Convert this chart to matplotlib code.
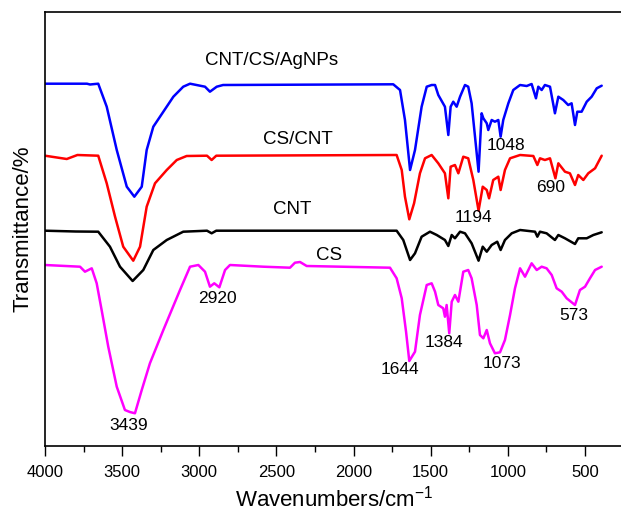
import matplotlib
matplotlib.use('Agg')
import matplotlib.pyplot as plt
from matplotlib.ticker import MultipleLocator

plt.rcParams['font.family'] = ['Liberation Sans', 'DejaVu Sans']
plt.rcParams['mathtext.fontset'] = 'custom'
plt.rcParams['mathtext.rm'] = 'Liberation Sans'
plt.rcParams['mathtext.default'] = 'regular'

# spectra (wavenumber, offset transmittance in arbitrary units)
wn_agnp = [4000, 3728, 3708, 3676, 3655, 3600, 3535, 3470, 3421, 3373, 3341, 3298, 3233, 3168,
           3104, 3060, 2963, 2931, 2887, 2846, 1743, 1699, 1667, 1634, 1602, 1559, 1526, 1494,
           1472, 1451, 1408, 1386, 1371, 1354, 1332, 1310, 1278, 1257, 1235, 1213, 1190, 1170,
           1159, 1137, 1127, 1105, 1084, 1062, 1047, 1030, 997, 965, 921, 878, 846, 818, 803,
           781, 760, 727, 695, 673, 641, 609, 587, 565, 550, 522, 489, 457, 424, 392]
t_agnp = [362.3, 362.3, 361.5, 362, 362.3, 339.3, 296, 259.3, 249.3, 259.3, 296, 319.3, 334.3, 349.3,
          359.3, 362.3, 359.3, 354.3, 359.3, 361, 361.7, 356, 326, 276, 296, 339.3, 359.3, 361,
          361, 351, 339.3, 311, 339.3, 344.3, 339.3, 349.3, 361, 359.3, 342.7, 309.3, 274.3, 332.7,
          327.7, 322.7, 316, 326, 324.3, 326, 309.3, 326, 342.7, 356, 361, 360, 362, 347.7, 359.3,
          356, 361, 359.3, 332.7, 349.3, 346, 341, 342.7, 321, 334.3, 334.3, 344.3, 349.3, 357.7, 360.3]

wn_cscnt = [4000, 3859, 3790, 3655, 3600, 3546, 3493, 3428, 3384, 3341, 3287, 3211, 3146, 3082,
            2950, 2920, 2890, 1721, 1688, 1667, 1639, 1608, 1570, 1537, 1494, 1451, 1408, 1386,
            1371, 1343, 1321, 1289, 1257, 1224, 1190, 1163, 1137, 1122, 1095, 1062, 1047, 1019,
            986, 921, 835, 809, 792, 760, 727, 692, 673, 630, 598, 565, 544, 511, 479, 435, 392]
t_cscnt = [290.3, 287, 291, 290.3, 262.7, 229.3, 199.3, 185.3, 199.3, 239.3, 262.7, 276, 286, 290,
           290.3, 286, 290.3, 291, 276, 249.3, 226.7, 242.7, 272.7, 287.7, 291, 282.7, 272.7, 247.7,
           279.3, 281, 272.7, 289.3, 287.7, 266, 235.3, 259.3, 256, 247.7, 266, 269.3, 256, 276,
           287.7, 291, 290, 281, 287.7, 286, 287.7, 267.7, 282.7, 274.3, 272.7, 261, 271, 266, 272.7, 277.7, 290.3]

wn_cnt = [4000, 3800, 3655, 3579, 3514, 3432, 3363, 3298, 3211, 3104, 2950, 2920, 2890, 1721,
          1678, 1634, 1602, 1559, 1505, 1461, 1408, 1386, 1364, 1343, 1310, 1278, 1235, 1190,
          1163, 1137, 1105, 1069, 1047, 1019, 975, 921, 824, 809, 792, 749, 695, 673, 630, 565,
          544, 489, 446, 392]
t_cnt = [215.3, 214.5, 214.3, 199.3, 179.3, 165, 176, 196, 206, 214.3, 215.3, 212.7, 215.3, 215.3,
         206, 186, 192.7, 209.3, 214.3, 211, 206, 200, 211, 207.7, 214.3, 212.7, 202.7, 185.3,
         199.3, 194.3, 201, 204.3, 196, 206, 212.7, 216, 214.3, 209.3, 214.3, 212.7, 206, 211, 207.7, 202,
         207.7, 207.7, 211, 213.7]

wn_cs = [4000, 3773, 3741, 3697, 3665, 3633, 3590, 3535, 3482, 3450, 3417, 3373, 3320, 3233, 3125,
         3060, 3006, 2963, 2931, 2903, 2870, 2833, 2801, 2585, 2412, 2380, 2347, 2304, 1764, 1721,
         1688, 1660, 1639, 1602, 1570, 1526, 1494, 1472, 1451, 1419, 1408, 1397, 1380, 1364, 1343,
         1321, 1289, 1257, 1235, 1202, 1181, 1159, 1137, 1116, 1084, 1051, 1019, 986, 954, 921, 889,
         846, 813, 781, 749, 716, 684, 651, 619, 565, 533, 500, 468, 435, 392]
t_cs = [181, 179.3, 174.3, 177.7, 162.7, 136, 99.3, 59.3, 36, 34, 32.7, 56, 82.7, 116, 156,
        179.3, 181, 174.3, 159.3, 162.7, 158.7, 176, 181, 179.3, 178.3, 183.3, 184, 180, 178.3, 167.7,
        147.7, 114.3, 85, 94.3, 131, 161, 162.7, 154.3, 141, 137.7, 129.3, 141, 112.7, 144.3, 151,
        144.3, 174.3, 176, 167.7, 141, 111, 107.7, 116, 102.7, 92.7, 93.7, 106, 131, 157.7, 177.7, 169.3,
        182.7, 176, 179.3, 177.7, 171, 157.7, 154.3, 147.7, 141, 156, 159.3, 167.7, 176, 179.3]

series_names = ['CNT/CS/AgNPs', 'CS/CNT', 'CNT', 'CS']
peak_labels = ['1048', '1194', '690', '2920', '3439', '1644', '1384', '1073', '573']

fig = plt.figure(figsize=(6.21, 5.13), dpi=100)
ax = fig.add_axes([45 / 621, 67 / 513, 578.6 / 621, 434 / 513])

line_kw = dict(lw=1.8, solid_joinstyle='round', solid_capstyle='round')
ax.plot(wn_agnp, t_agnp, color='#0000ff', **line_kw)
ax.plot(wn_cscnt, t_cscnt, color='#ff0000', **line_kw)
ax.plot(wn_cnt, t_cnt, color='black', **line_kw)
ax.plot(wn_cs, t_cs, color='#ff00ff', **line_kw)

# curve names
name_pos = [(2529, 385.3), (2360, 307), (2401, 236.7), (2159, 191)]
for name, (x, y) in zip(series_names, name_pos):
    ax.text(x, y, name, fontsize=13.5, ha='center', va='center')

# peak positions
peak_pos = [(1014, 300), (1224, 228.7), (724, 258.3), (2885, 147.7), (3460, 21),
            (1699, 76), (1412, 103.7), (1038, 82.7), (576, 130)]
for lab, (x, y) in zip(peak_labels, peak_pos):
    ax.text(x, y, lab, fontsize=12.5, ha='center', va='center')

ax.set_xlim(4000, 250)
ax.set_ylim(0, 434)
ax.xaxis.set_major_locator(MultipleLocator(500))
ax.xaxis.set_minor_locator(MultipleLocator(250))
ax.tick_params(axis='x', which='major', direction='out', length=7, width=1, labelsize=12, pad=7)
ax.tick_params(axis='x', which='minor', direction='out', length=4, width=1)
ax.set_yticks([])
for s in ax.spines.values():
    s.set_linewidth(1.2)

ax.set_xlabel('Wavenumbers/cm$^{-1}$', fontsize=16, labelpad=4)
ax.set_ylabel('Transmittance/%', fontsize=16, labelpad=8)

fig.savefig('out.png', dpi=100)
